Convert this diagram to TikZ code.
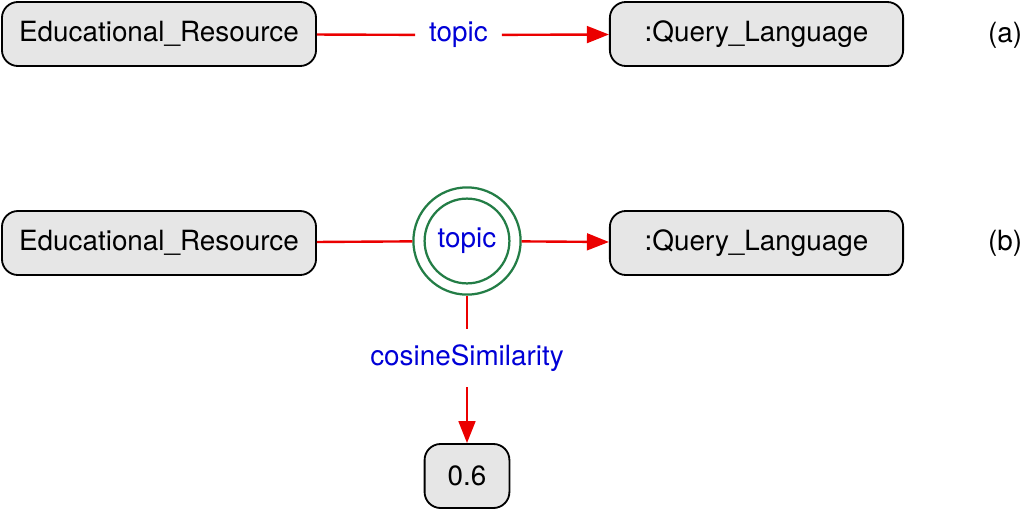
\documentclass[tikz,border=0pt]{standalone}
\usepackage{fontspec}
\setmainfont{TeX Gyre Heros}
\usetikzlibrary{arrows.meta,positioning}

\definecolor{boxgray}{RGB}{230,230,230}
\definecolor{linkred}{RGB}{235,0,0}
\definecolor{labblue}{RGB}{0,0,215}
\definecolor{ringgreen}{RGB}{35,125,70}

\begin{document}
\begin{tikzpicture}[x=0.025cm, y=-0.025cm, font=\fontsize{19.8}{23}\selectfont,
    main/.style = {draw, line width=1.3pt, fill=boxgray, rounded corners=0.4cm, minimum height=1.6cm, inner sep=0pt},
    lab/.style = {text=labblue, fill=white, inner sep=0pt},
    link/.style = {draw=linkred, line width=1.7pt},
    arr/.style = {link, -{Triangle[length=0.55cm, width=0.42cm]}},
    ring/.style = {draw=ringgreen, line width=1.6pt, circle, inner sep=0pt}]
    \useasboundingbox (0,0) rectangle (1026,508);

    % (a)
    \node[main, minimum width=7.85cm] (ER) at (159,34) {Educational\_Resource};
    \node[main, minimum width=7.33cm] (QL) at (756.5,34) {:Query\_Language};
    \node[lab, minimum width=2.15cm, minimum height=0.8cm] (t) at (458.5,35) {topic};
    \node (a) at (1005,35) {(a)};

    \draw[link] (ER) -- (t);
    \draw[arr] (t) -- (QL);

    % (b)
    \node[main, minimum width=7.85cm] (ER2) at (159,243) {Educational\_Resource};
    \node[main, minimum width=7.33cm] (QL2) at (756.5,243) {:Query\_Language};
    \node[ring, minimum size=2.68cm] (t2) at (467,241) {};
    \node[ring, minimum size=2.12cm, text=labblue] (t2in) at (467,241) {topic};
    \node (b) at (1005,243) {(b)};

    \node[lab, minimum width=5cm, minimum height=1.45cm] (cs) at (467,358) {cosineSimilarity};
    \node[main, minimum width=2.12cm] (v) at (467,476) {0.6};

    \draw[link] (ER2) -- (t2);
    \draw[arr] (t2) -- (QL2);
    \draw[link] (t2) -- (cs);
    \draw[arr] (cs) -- (v);
\end{tikzpicture}
\end{document}
